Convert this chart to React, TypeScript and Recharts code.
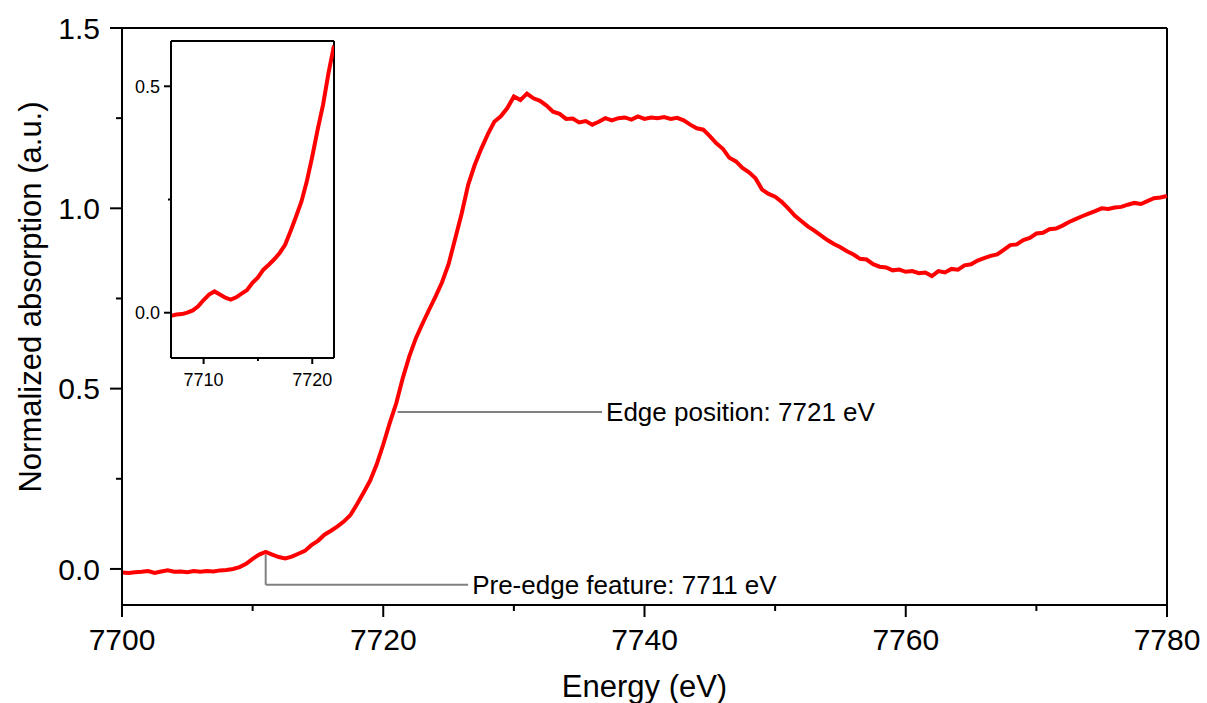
import React from "react";
import {
  LineChart,
  Line,
  XAxis,
  YAxis,
  ReferenceLine,
  ReferenceDot,
} from "recharts";

// Fe K-edge XANES, normalized
const ENERGY = [
  7700, 7700.5, 7701, 7701.5, 7702, 7702.5, 7703, 7703.5, 7704, 7704.5,
  7705, 7705.5, 7706, 7706.5, 7707, 7707.5, 7708, 7708.5, 7709, 7709.5,
  7710, 7710.5, 7711, 7711.5, 7712, 7712.5, 7713, 7713.5, 7714, 7714.5,
  7715, 7715.5, 7716, 7716.5, 7717, 7717.5, 7718, 7718.5, 7719, 7719.5,
  7720, 7720.5, 7721, 7721.5, 7722, 7722.5, 7723, 7723.5, 7724, 7724.5,
  7725, 7725.5, 7726, 7726.5, 7727, 7727.5, 7728, 7728.5, 7729, 7729.5,
  7730, 7730.5, 7731, 7731.5, 7732, 7732.5, 7733, 7733.5, 7734, 7734.5,
  7735, 7735.5, 7736, 7736.5, 7737, 7737.5, 7738, 7738.5, 7739, 7739.5,
  7740, 7740.5, 7741, 7741.5, 7742, 7742.5, 7743, 7743.5, 7744, 7744.5,
  7745, 7745.5, 7746, 7746.5, 7747, 7747.5, 7748, 7748.5, 7749, 7749.5,
  7750, 7750.5, 7751, 7751.5, 7752, 7752.5, 7753, 7753.5, 7754, 7754.5,
  7755, 7755.5, 7756, 7756.5, 7757, 7757.5, 7758, 7758.5, 7759, 7759.5,
  7760, 7760.5, 7761, 7761.5, 7762, 7762.5, 7763, 7763.5, 7764, 7764.5,
  7765, 7765.5, 7766, 7766.5, 7767, 7767.5, 7768, 7768.5, 7769, 7769.5,
  7770, 7770.5, 7771, 7771.5, 7772, 7772.5, 7773, 7773.5, 7774, 7774.5,
  7775, 7775.5, 7776, 7776.5, 7777, 7777.5, 7778, 7778.5, 7779, 7779.5,
  7780,
];

const ABSORPTION = [
  -0.010, -0.011, -0.009, -0.008, -0.006, -0.011, -0.007, -0.004, -0.008, -0.007,
  -0.009, -0.006, -0.008, -0.006, -0.007, -0.004, -0.003, 0.000, 0.005, 0.014,
  0.028, 0.040, 0.047, 0.040, 0.033, 0.029, 0.034, 0.042, 0.050, 0.066,
  0.078, 0.095, 0.106, 0.118, 0.132, 0.150, 0.180, 0.212, 0.245, 0.290,
  0.345, 0.405, 0.460, 0.530, 0.590, 0.640, 0.680, 0.718, 0.755, 0.795,
  0.845, 0.915, 0.985, 1.065, 1.120, 1.165, 1.205, 1.240, 1.255, 1.278,
  1.310, 1.300, 1.318, 1.305, 1.298, 1.285, 1.268, 1.262, 1.248, 1.249,
  1.238, 1.242, 1.232, 1.240, 1.250, 1.244, 1.250, 1.252, 1.246, 1.255,
  1.248, 1.252, 1.250, 1.253, 1.248, 1.251, 1.244, 1.232, 1.222, 1.218,
  1.200, 1.180, 1.165, 1.140, 1.130, 1.112, 1.100, 1.083, 1.052, 1.040,
  1.032, 1.018, 1.000, 0.980, 0.965, 0.950, 0.938, 0.925, 0.912, 0.901,
  0.892, 0.881, 0.872, 0.860, 0.858, 0.845, 0.838, 0.836, 0.828, 0.830,
  0.824, 0.826, 0.820, 0.822, 0.812, 0.826, 0.822, 0.832, 0.830, 0.842,
  0.845, 0.855, 0.862, 0.868, 0.872, 0.885, 0.898, 0.900, 0.912, 0.918,
  0.930, 0.932, 0.942, 0.944, 0.952, 0.962, 0.970, 0.978, 0.985, 0.992,
  1.000, 0.998, 1.002, 1.004, 1.010, 1.015, 1.012, 1.020, 1.028, 1.030,
  1.034,
];

const X_TICKS = [7700, 7710, 7720, 7730, 7740, 7750, 7760, 7770, 7780];
const X_MAJOR = [7700, 7720, 7740, 7760, 7780];
const Y_TICKS = [0, 0.25, 0.5, 0.75, 1, 1.25, 1.5];
const Y_MAJOR = [0, 0.5, 1, 1.5];

const INSET_X_TICKS = [7710, 7715, 7720];
const INSET_X_MAJOR = [7710, 7720];
const INSET_Y_TICKS = [0, 0.25, 0.5];
const INSET_Y_MAJOR = [0, 0.5];

const PRE_EDGE = { e: 7711, text: "Pre-edge feature: 7711 eV" };
const EDGE = { e: 7721.1, text: "Edge position: 7721 eV" };

const data = ENERGY.map((e, i) => ({ e, v: ABSORPTION[i] }));
const insetData = data.filter((d) => d.e >= 7707 && d.e <= 7722);

const FONT = "'Liberation Sans', Arial, sans-serif";

function makeBottomTick(majors: number[], big: number, small: number, fs: number, dy: number) {
  return (p: any) => {
    const major = majors.includes(p.payload.value);
    return (
      <g>
        <line x1={p.x} x2={p.x} y1={p.y} y2={p.y + (major ? big : small)} stroke="#000" strokeWidth={2} />
        {major && (
          <text x={p.x} y={p.y + dy} textAnchor="middle" fontSize={fs} fontFamily={FONT} fill="#000">
            {p.payload.value}
          </text>
        )}
      </g>
    );
  };
}

function makeLeftTick(majors: number[], big: number, small: number, fs: number, gap: number) {
  return (p: any) => {
    const major = majors.includes(p.payload.value);
    return (
      <g>
        <line x1={p.x} x2={p.x - (major ? big : small)} y1={p.y} y2={p.y} stroke="#000" strokeWidth={2} />
        {major && (
          <text x={p.x - gap} y={p.y} dy="0.36em" textAnchor="end" fontSize={fs} fontFamily={FONT} fill="#000">
            {p.payload.value.toFixed(1)}
          </text>
        )}
      </g>
    );
  };
}

export default function App() {
  return (
    <div style={{ position: "absolute", left: 0, top: 0, width: 1207, height: 703, background: "#fff", fontFamily: FONT }}>
      <LineChart width={1207} height={703} data={data} margin={{ top: 28, right: 40, left: 0, bottom: 0 }}>
        <XAxis
          dataKey="e"
          type="number"
          domain={[7700, 7780]}
          ticks={X_TICKS}
          interval={0}
          height={98}
          tickSize={0}
          tickMargin={0}
          axisLine={{ stroke: "#000", strokeWidth: 2 }}
          tickLine={false}
          tick={makeBottomTick(X_MAJOR, 12, 6, 30, 45)}
          label={{ value: "Energy (eV)", position: "insideBottom", offset: 6, fontSize: 31, fill: "#000" }}
        />
        <YAxis
          type="number"
          domain={[-0.1, 1.5]}
          ticks={Y_TICKS}
          interval={0}
          width={122}
          tickSize={0}
          tickMargin={0}
          axisLine={{ stroke: "#000", strokeWidth: 2 }}
          tickLine={false}
          tick={makeLeftTick(Y_MAJOR, 12, 6, 30, 22)}
          label={{
            content: () => (
              <text x={30} y={297} transform="rotate(-90 30 297)" textAnchor="middle" dominantBaseline="central" fontSize={31} fontFamily={FONT} fill="#000">
                Normalized absorption (a.u.)
              </text>
            ),
          }}
        />
        <ReferenceLine y={1.5} stroke="#000" strokeWidth={2} />
        <ReferenceLine x={7780} stroke="#000" strokeWidth={2} />
        <ReferenceLine
          segment={[{ x: PRE_EDGE.e, y: 0.039 }, { x: PRE_EDGE.e, y: -0.044 }]}
          stroke="#808080"
          strokeWidth={2}
        />
        <ReferenceLine
          segment={[{ x: PRE_EDGE.e, y: -0.044 }, { x: 7726.5, y: -0.044 }]}
          stroke="#808080"
          strokeWidth={2}
        />
        <ReferenceLine
          segment={[{ x: EDGE.e, y: 0.435 }, { x: 7736.75, y: 0.435 }]}
          stroke="#808080"
          strokeWidth={2}
        />
        <ReferenceDot
          x={7726.5}
          y={-0.044}
          r={0}
          fill="none"
          stroke="none"
          label={{ value: PRE_EDGE.text, position: "right", offset: 4, fontSize: 26, fill: "#000" }}
        />
        <ReferenceDot
          x={7736.75}
          y={0.435}
          r={0}
          fill="none"
          stroke="none"
          label={{ value: EDGE.text, position: "right", offset: 4, fontSize: 26, fill: "#000" }}
        />
        <Line type="linear" dataKey="v" stroke="#ff0000" strokeWidth={4} dot={false} isAnimationActive={false} />
      </LineChart>

      <div style={{ position: "absolute", left: 110, top: 30 }}>
        <LineChart width={240} height={370} data={insetData} margin={{ top: 11, right: 16, left: 0, bottom: 0 }}>
          <XAxis
            dataKey="e"
            type="number"
            domain={[7707, 7722]}
            allowDataOverflow
            ticks={INSET_X_TICKS}
            interval={0}
            height={42}
            tickSize={0}
            tickMargin={0}
            axisLine={{ stroke: "#000", strokeWidth: 2 }}
            tickLine={false}
            tick={makeBottomTick(INSET_X_MAJOR, 6, 3, 18, 28)}
          />
          <YAxis
            type="number"
            domain={[-0.1, 0.6]}
            allowDataOverflow
            ticks={INSET_Y_TICKS}
            interval={0}
            width={61}
            tickSize={0}
            tickMargin={0}
            axisLine={{ stroke: "#000", strokeWidth: 2 }}
            tickLine={false}
            tick={makeLeftTick(INSET_Y_MAJOR, 7, 3, 18, 11)}
          />
          <ReferenceLine y={0.6} stroke="#000" strokeWidth={2} />
          <ReferenceLine x={7722} stroke="#000" strokeWidth={2} />
          <Line type="linear" dataKey="v" stroke="#ff0000" strokeWidth={4} dot={false} isAnimationActive={false} />
        </LineChart>
      </div>
    </div>
  );
}
